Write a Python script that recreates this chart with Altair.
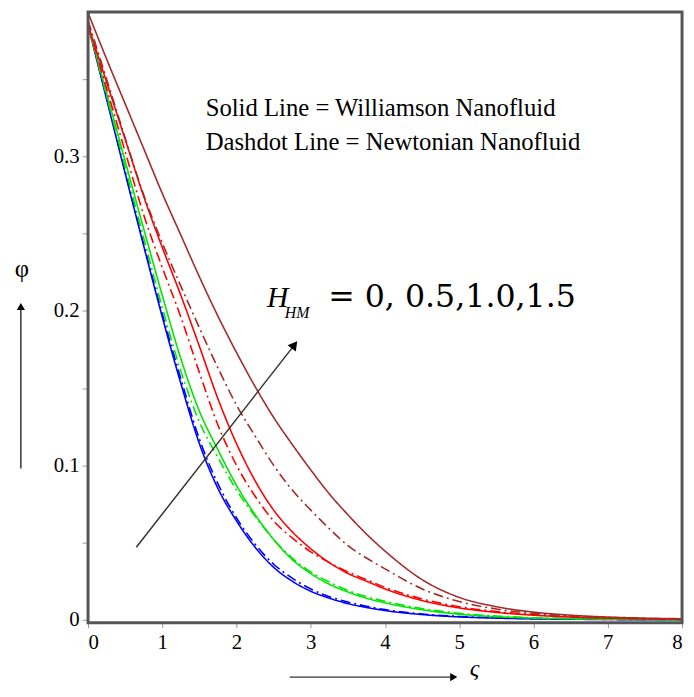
import altair as alt
import pandas as pd

# ---- data -------------------------------------------------------------------
zeta = [0, 0.25, 0.5, 0.75, 1.0, 1.25, 1.5, 1.75, 2.0, 2.25, 2.5, 2.75, 3.0,
        3.25, 3.5, 3.75, 4.0, 4.5, 5.0, 5.5, 6.0, 6.5, 7.0, 7.5, 8.0]

# H_HM = 0 (blue)
blue_williamson = [0.385, 0.337, 0.289, 0.242, 0.196, 0.153, 0.114, 0.085, 0.064, 0.047, 0.034, 0.025, 0.0185,
                   0.014, 0.0105, 0.008, 0.006, 0.0034, 0.0019, 0.0011, 0.0006, 0.0004, 0.0002, 0.0001, 0.0001]
blue_newtonian = [0.385, 0.338, 0.290, 0.243, 0.198, 0.156, 0.117, 0.088, 0.066, 0.049, 0.036, 0.027, 0.020,
                  0.015, 0.0115, 0.0088, 0.0066, 0.0038, 0.0022, 0.0013, 0.0008, 0.0005, 0.0003, 0.0002, 0.0001]
# H_HM = 0.5 (green)
green_williamson = [0.385, 0.341, 0.297, 0.253, 0.210, 0.169, 0.135, 0.110, 0.087, 0.068, 0.052, 0.039, 0.030,
                    0.023, 0.018, 0.014, 0.011, 0.0065, 0.0036, 0.002, 0.0011, 0.0007, 0.0004, 0.0002, 0.0001]
green_newtonian = [0.385, 0.339, 0.293, 0.247, 0.202, 0.161, 0.128, 0.105, 0.084, 0.067, 0.052, 0.040, 0.031,
                   0.0245, 0.019, 0.015, 0.012, 0.0073, 0.0042, 0.0025, 0.0014, 0.0009, 0.0005, 0.0003, 0.0002]
# H_HM = 1.0 (red)
red_williamson = [0.385, 0.348, 0.311, 0.274, 0.241, 0.210, 0.177, 0.143, 0.114, 0.090, 0.071, 0.057, 0.046,
                  0.037, 0.030, 0.025, 0.020, 0.0125, 0.0077, 0.0048, 0.003, 0.0018, 0.0011, 0.0006, 0.0003]
red_newtonian = [0.385, 0.344, 0.303, 0.262, 0.228, 0.196, 0.160, 0.126, 0.100, 0.080, 0.064, 0.053, 0.044,
                 0.037, 0.031, 0.026, 0.021, 0.0135, 0.0085, 0.0054, 0.0034, 0.002, 0.0012, 0.0007, 0.0004]
# H_HM = 1.5 (brown)
brown_williamson = [0.393, 0.363, 0.334, 0.305, 0.276, 0.249, 0.222, 0.1965, 0.173, 0.151, 0.131, 0.1135, 0.097,
                    0.0815, 0.068, 0.0555, 0.0445, 0.026, 0.0145, 0.0085, 0.005, 0.003, 0.0018, 0.0011, 0.0007]
brown_newtonian = [0.388, 0.350, 0.312, 0.275, 0.244, 0.216, 0.189, 0.163, 0.139, 0.119, 0.100, 0.084, 0.071,
                   0.059, 0.048, 0.040, 0.033, 0.020, 0.0118, 0.007, 0.0042, 0.0025, 0.0015, 0.0009, 0.0005]

groups = ["0", "0.5", "1.0", "1.5"]
group_colors = ["#0000ff", "#00e600", "#ff0000", "#a52a2a"]
fluids = ["Williamson", "Newtonian"]

series = [
    ("0", "Williamson", blue_williamson), ("0", "Newtonian", blue_newtonian),
    ("0.5", "Williamson", green_williamson), ("0.5", "Newtonian", green_newtonian),
    ("1.0", "Williamson", red_williamson), ("1.0", "Newtonian", red_newtonian),
    ("1.5", "Williamson", brown_williamson), ("1.5", "Newtonian", brown_newtonian),
]

x_ticks = [0, 0.5, 1, 1.5, 2, 2.5, 3, 3.5, 4, 4.5, 5, 5.5, 6, 6.5, 7, 7.5, 8]
y_ticks = [0, 0.05, 0.1, 0.15, 0.2, 0.25, 0.3, 0.35]

arrow_zeta = [0.65, 2.78]
arrow_phi = [0.047, 0.178]

rows = []
for g, f, vals in series:
    for z, p in zip(zeta, vals):
        rows.append({"zeta": z, "phi": p, "H": g, "fluid": f, "key": g + "-" + f})
df = pd.DataFrame(rows)

FONT = "Liberation Serif"
WIDE = "DejaVu Serif"
W, H = 601, 618

xscale = alt.Scale(domain=[0, 8], nice=False, zero=False)
yscale = alt.Scale(domain=[-0.0019, 0.3935], nice=False, zero=False)

x_axis = alt.Axis(values=x_ticks, title=None, grid=False, domain=False,
                  labelExpr="datum.value % 1 == 0 ? format(datum.value, 'd') : ''",
                  labelFont=FONT, labelFontSize=21, labelColor="black",
                  tickColor="#999", tickSize=5, labelPadding=4)
y_axis = alt.Axis(values=y_ticks, title=None, grid=False, domain=False,
                  labelExpr="abs(datum.value*10 - round(datum.value*10)) < 0.000001 ? format(datum.value, '.1~f') : ''",
                  labelFont=FONT, labelFontSize=21, labelColor="black",
                  tickColor="#999", tickSize=6, labelPadding=3)

lines = alt.Chart(df).mark_line(strokeWidth=1.6, interpolate="monotone").encode(
    x=alt.X("zeta:Q", scale=xscale, axis=x_axis),
    y=alt.Y("phi:Q", scale=yscale, axis=y_axis),
    color=alt.Color("H:N", scale=alt.Scale(domain=groups, range=group_colors), legend=None),
    strokeDash=alt.StrokeDash("fluid:N", scale=alt.Scale(domain=fluids, range=[[1, 0], [10, 4, 2, 4]]), legend=None),
    detail="key:N",
)

one = pd.DataFrame({"a": [0]})
frame = alt.Chart(one).mark_rect(fillOpacity=0, stroke="#555", strokeWidth=3).encode(
    x=alt.value(0), x2=alt.value(W), y=alt.value(0), y2=alt.value(H))

arrow_df = pd.DataFrame({"z1": [arrow_zeta[0]], "p1": [arrow_phi[0]], "z2": [arrow_zeta[1]], "p2": [arrow_phi[1]]})
arrow_shaft = alt.Chart(arrow_df).mark_rule(color="#333", strokeWidth=1.5).encode(
    x=alt.X("z1:Q", scale=xscale), y=alt.Y("p1:Q", scale=yscale),
    x2="z2:Q", y2="p2:Q")
arrow_head = alt.Chart(arrow_df).mark_point(shape="triangle-up", filled=True, color="black",
                                            size=110, angle=38, opacity=1).encode(
    x=alt.X("z2:Q", scale=xscale), y=alt.Y("p2:Q", scale=yscale))


def label(text, x, y, size, italic=False, align="left", baseline="alphabetic", font=FONT):
    return alt.Chart(pd.DataFrame({"t": [text]})).mark_text(
        font=font, fontSize=size, fontStyle="italic" if italic else "normal",
        align=align, baseline=baseline, color="black").encode(
        text="t:N", x=alt.value(x), y=alt.value(y))


texts = [
    label("Solid Line = Williamson Nanofluid", 119, 105, 25),
    label("Dashdot Line = Newtonian Nanofluid", 119, 140, 25),
    label("H", 181, 299, 30, italic=True),
    label("HM", 199, 310, 16, italic=True),
    label("= 0, 0.5,1.0,1.5", 243, 299, 32, font=WIDE),
    label("φ", -67, 260, 25, align="center", baseline="middle"),
    label("ς", 391, 672, 24, italic=True, align="center"),
]

# axis-title arrows outside the plot
yarrow = alt.Chart(one).mark_rule(color="#333", strokeWidth=1.5).encode(
    x=alt.value(-68), y=alt.value(462), y2=alt.value(298))
yarrow_head = alt.Chart(one).mark_point(
    shape="triangle-up", filled=True, color="black", size=70, opacity=1).encode(
    x=alt.value(-68), y=alt.value(298))
xarrow = alt.Chart(one).mark_rule(color="#333", strokeWidth=1.5).encode(
    x=alt.value(204), x2=alt.value(370), y=alt.value(673))
xarrow_head = alt.Chart(one).mark_point(
    shape="triangle-right", filled=True, color="black", size=70, opacity=1).encode(
    x=alt.value(370), y=alt.value(673))

chart = alt.layer(lines, frame, arrow_shaft, arrow_head, yarrow, yarrow_head, xarrow, xarrow_head, *texts).properties(
    width=W, height=H,
    autosize=alt.AutoSizeParams(type="none"),
    padding={"left": 81, "top": 0, "right": 4, "bottom": 63},
).configure_view(strokeWidth=0).configure(background="white")

chart.save("out.html", embed_options={"renderer": "svg", "actions": False})
